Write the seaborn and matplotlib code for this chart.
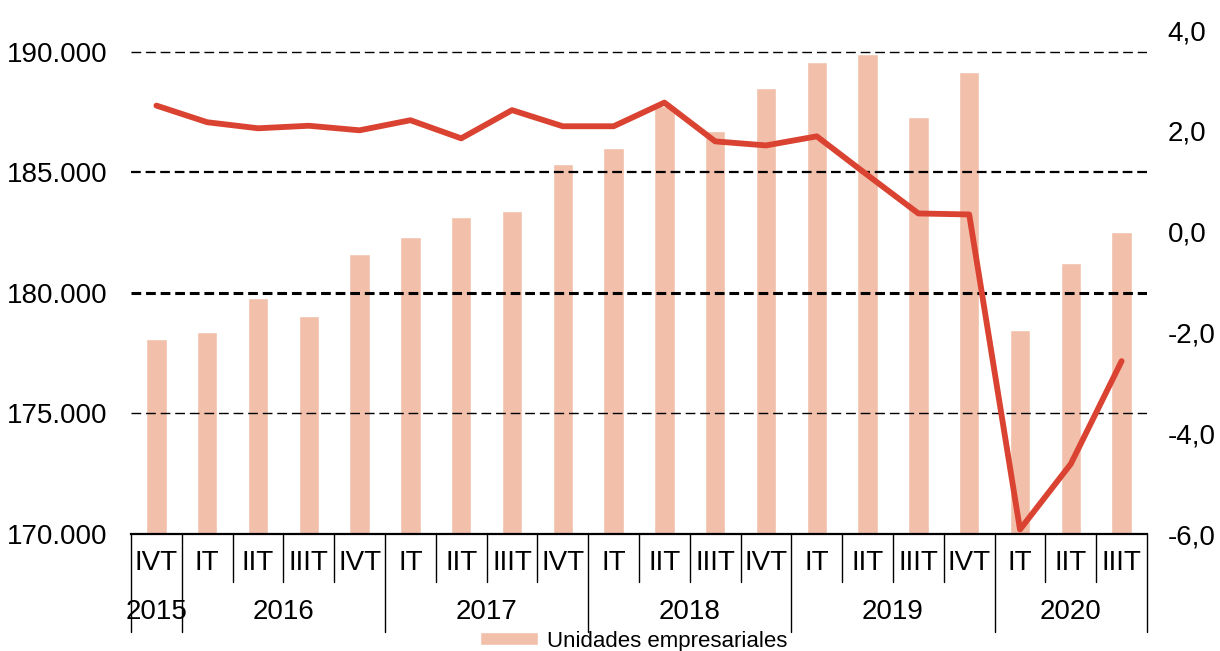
import numpy as np
import pandas as pd
import seaborn as sns
import matplotlib.pyplot as plt
from matplotlib.ticker import FuncFormatter, FixedLocator
from matplotlib.patches import Patch

# data
quarters = ["IVT", "IT", "IIT", "IIIT", "IVT", "IT", "IIT", "IIIT", "IVT", "IT",
            "IIT", "IIIT", "IVT", "IT", "IIT", "IIIT", "IVT", "IT", "IIT", "IIIT"]
years = ["2015", "2016", "2016", "2016", "2016", "2017", "2017", "2017", "2017", "2018",
         "2018", "2018", "2018", "2019", "2019", "2019", "2019", "2020", "2020", "2020"]
unidades = [178070, 178400, 179810, 179060, 181630, 182340, 183170, 183380, 185370, 186030,
            187750, 186700, 188520, 189600, 189930, 187320, 189180, 178480, 181250, 182540]
variacion = [2.50, 2.17, 2.05, 2.10, 2.01, 2.21, 1.85, 2.41, 2.09, 2.09,
             2.56, 1.79, 1.71, 1.89, 1.12, 0.36, 0.34, -5.91, -4.61, -2.57]
left_ticks = [170000, 175000, 180000, 185000, 190000]
right_ticks = [-6, -4, -2, 0, 2, 4]

bar_color = "#F2C0AA"
line_color = "#DA4332"

df = pd.DataFrame({"periodo": [y + "-" + q for y, q in zip(years, quarters)],
                   "quarter": quarters, "year": years,
                   "unidades": unidades, "variacion": variacion})
df["pos"] = np.arange(len(df))

sns.set_style("white")
plt.rcParams["font.family"] = ["Liberation Sans", "DejaVu Sans"]
plt.rcParams["lines.scale_dashes"] = False
plt.rcParams["text.color"] = "black"
plt.rcParams["xtick.color"] = "black"
plt.rcParams["ytick.color"] = "black"
plt.rcParams["ytick.labelcolor"] = "black"

fig = plt.figure(figsize=(12.2, 6.51), dpi=100)
ax = fig.add_axes([131 / 1220, 117 / 651, 1016 / 1220, 504 / 651])

sns.barplot(data=df, x="periodo", y="unidades", color=bar_color, saturation=1,
            width=0.4, ax=ax, zorder=1)
ax.set_xlim(-0.5, len(df) - 0.5)
ax.set_ylim(170000, 190910)
ax.set_xlabel("")
ax.set_ylabel("")

# dashed gridlines, drawn over the bars
grid_lw = {175000: 1.0, 180000: 2.2, 185000: 1.6, 190000: 1.0}
for v, lw in grid_lw.items():
    ax.axhline(v, color="black", lw=lw, ls=(0, (7, 3.5)), zorder=2)

ax.yaxis.set_major_locator(FixedLocator(left_ticks))
ax.yaxis.set_major_formatter(FuncFormatter(lambda v, p: f"{int(v):,}".replace(",", ".")))
ax.tick_params(axis="y", length=0, pad=17, labelsize=20, labelcolor="black")
ax.tick_params(axis="x", length=0, labelbottom=False)
for s in ["left", "right", "top"]:
    ax.spines[s].set_visible(False)
ax.spines["bottom"].set_linewidth(1.6)
ax.spines["bottom"].set_color("black")

# secondary axis: variation line
ax2 = ax.twinx()
sns.lineplot(data=df, x="pos", y="variacion", color=line_color, lw=4.2, ax=ax2,
             solid_joinstyle="round", solid_capstyle="round", legend=False)
ax2.set_xlim(-0.5, len(df) - 0.5)
ax2.set_ylim(-6, 4)
ax2.yaxis.set_major_locator(FixedLocator(right_ticks))
ax2.yaxis.set_major_formatter(FuncFormatter(lambda v, p: f"{v:.1f}".replace(".", ",")))
ax2.tick_params(axis="y", length=0, pad=15, labelsize=20, labelcolor="black")
ax2.set_ylabel("")
ax2.set_xlabel("")
for s in ax2.spines.values():
    s.set_visible(False)

# two-level category axis
tr = ax.get_xaxis_transform()
for i, q in enumerate(quarters):
    ax.text(i, -0.058, q, transform=tr, ha="center", va="center", fontsize=20)
for i in range(len(df) + 1):
    b = i - 0.5
    long_sep = i == 0 or i == len(df) or years[i] != years[i - 1]
    y_end = -0.195 if long_sep else -0.096
    ax.plot([b, b], [0, y_end], transform=tr, color="black", lw=1.0, clip_on=False)
for yr in dict.fromkeys(years):
    idx = [i for i, y in enumerate(years) if y == yr]
    ax.text(np.mean(idx), -0.155, yr, transform=tr, ha="center", va="center", fontsize=20)

fig.legend(handles=[Patch(facecolor=bar_color, label="Unidades empresariales")],
           loc="center", bbox_to_anchor=(634 / 1220, 10 / 651), frameon=False,
           fontsize=16, handlelength=2.6, handleheight=0.55, handletextpad=0.4,
           borderpad=0)

fig.savefig("out.png", dpi=100)
